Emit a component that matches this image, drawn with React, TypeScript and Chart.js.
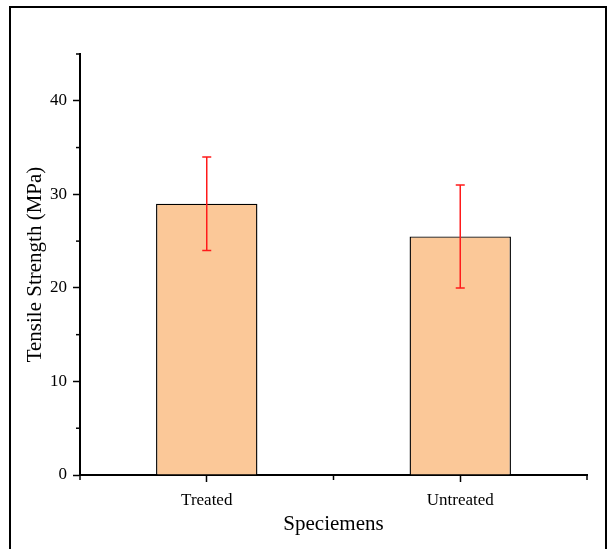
import React, { useEffect, useRef } from "react";
import { Chart, registerables } from "chart.js";

Chart.register(...registerables);

const categories = ["Treated", "Untreated"];
const strengthValues = [29, 25.5];
const strengthErrors = [5, 5.5];
const yMajorTicks = [0, 10, 20, 30, 40];
const yMinorTicks = [5, 15, 25, 35, 45];
const xAxisTitle = "Speciemens";
const yAxisTitle = "Tensile Strength (MPa)";

const FONT = "'Liberation Serif', 'Times New Roman', serif";

const framePlugin = {
  id: "frame",
  beforeDraw(chart: any) {
    const ctx = chart.ctx;
    ctx.save();
    ctx.fillStyle = "#ffffff";
    ctx.fillRect(0, 0, chart.width, chart.height);
    ctx.strokeStyle = "#000000";
    ctx.lineWidth = 2;
    ctx.strokeRect(10, 7, 596, 560);
    ctx.restore();
  },
};

const extrasPlugin = {
  id: "extras",
  afterDatasetsDraw(chart: any) {
    const ctx = chart.ctx;
    const x = chart.scales.x;
    const y = chart.scales.y;
    ctx.save();
    ctx.strokeStyle = "#ff1a1a";
    ctx.lineWidth = 1.5;
    strengthValues.forEach((v, i) => {
      const px = x.getPixelForValue(i);
      const top = y.getPixelForValue(v + strengthErrors[i]);
      const bot = y.getPixelForValue(v - strengthErrors[i]);
      ctx.beginPath();
      ctx.moveTo(px, top);
      ctx.lineTo(px, bot);
      ctx.moveTo(px - 4.5, top);
      ctx.lineTo(px + 4.5, top);
      ctx.moveTo(px - 4.5, bot);
      ctx.lineTo(px + 4.5, bot);
      ctx.stroke();
    });
    ctx.strokeStyle = "#000000";
    ctx.lineWidth = 1.5;
    const left = chart.chartArea.left;
    const bottom = chart.chartArea.bottom;
    yMinorTicks.forEach((t) => {
      const py = y.getPixelForValue(t);
      ctx.beginPath();
      ctx.moveTo(left, py);
      ctx.lineTo(left - 4, py);
      ctx.stroke();
    });
    const w = x.getPixelForValue(1) - x.getPixelForValue(0);
    const bounds = [x.getPixelForValue(0) - w / 2, x.getPixelForValue(0) + w / 2, x.getPixelForValue(1) + w / 2];
    bounds.forEach((bx) => {
      ctx.beginPath();
      ctx.moveTo(bx, bottom);
      ctx.lineTo(bx, bottom + 5);
      ctx.stroke();
    });
    ctx.restore();
  },
};

export default function App() {
  const ref = useRef<HTMLCanvasElement>(null);
  useEffect(() => {
    if (!ref.current) return;
    const chart = new Chart(ref.current, {
      type: "bar",
      data: {
        labels: categories,
        datasets: [
          {
            data: strengthValues,
            backgroundColor: "#FBC898",
            borderColor: "#000000",
            borderWidth: 1.4,
            barPercentage: 0.4,
            categoryPercentage: 1,
          },
        ],
      },
      options: {
        responsive: false,
        animation: false,
        layout: { padding: { top: 54, right: 21, left: 0, bottom: 0 } },
        plugins: { legend: { display: false }, tooltip: { enabled: false } },
        scales: {
          x: {
            offset: true,
            grid: {
              offset: false,
              drawOnChartArea: false,
              drawTicks: true,
              tickLength: 7,
              tickWidth: 1.5,
              tickColor: "#000000",
            },
            border: { color: "#000000", width: 2 },
            ticks: {
              color: "#000000",
              padding: 8,
              font: { family: FONT, size: 17 },
            },
            title: {
              display: true,
              text: xAxisTitle,
              color: "#000000",
              font: { family: FONT, size: 21 },
              padding: { top: 0, bottom: 12 },
            },
            afterFit(scale: any) {
              scale.height = 74;
            },
          },
          y: {
            min: 0,
            max: 45,
            afterBuildTicks(scale: any) {
              scale.ticks = yMajorTicks.map((v) => ({ value: v }));
            },
            ticks: {
              color: "#000000",
              padding: 6,
              font: { family: FONT, size: 17 },
            },
            grid: {
              drawOnChartArea: false,
              drawTicks: true,
              tickLength: 7,
              tickWidth: 1.5,
              tickColor: "#000000",
            },
            border: { color: "#000000", width: 2 },
            title: {
              display: true,
              text: yAxisTitle,
              color: "#000000",
              font: { family: FONT, size: 21 },
              padding: { top: 23, bottom: 0 },
            },
            afterFit(scale: any) {
              scale.width = 80;
            },
          },
        },
      },
      plugins: [framePlugin, extrasPlugin],
    });
    return () => chart.destroy();
  }, []);
  return (
    <div style={{ position: "absolute", left: 0, top: 0, width: 608, height: 549 }}>
      <canvas ref={ref} width={608} height={549} />
    </div>
  );
}
